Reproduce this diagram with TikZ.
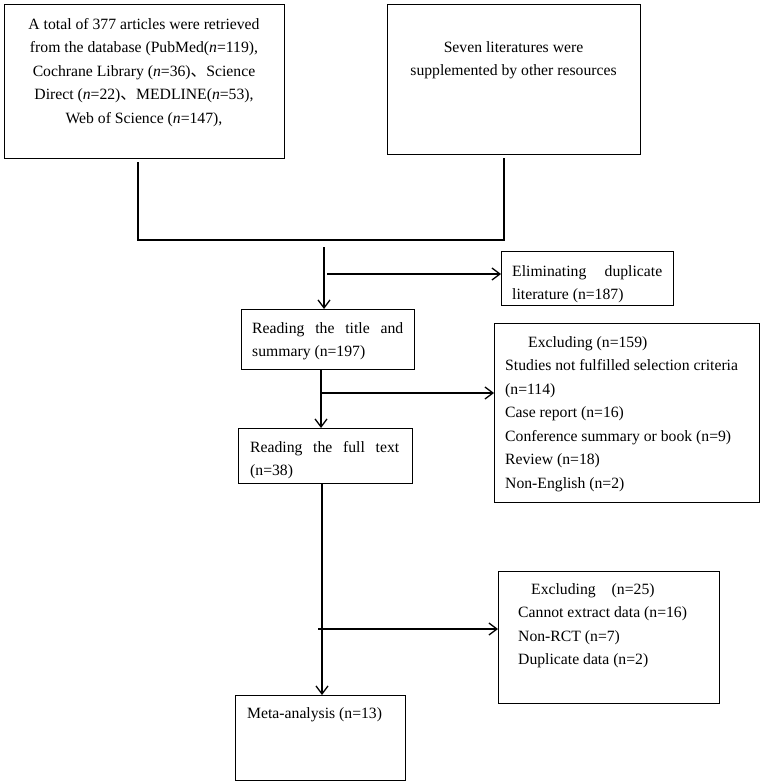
\documentclass[tikz,border=0pt]{standalone}
\usepackage{fontspec}
\setmainfont{Liberation Serif}
\newfontfamily\cjkfont{Noto Sans CJK SC}
\usetikzlibrary{arrows.meta}
\newcommand{\dunhao}{{\cjkfont 、}}
\begin{document}
\begin{tikzpicture}[x=1pt,y=-1pt,
  box/.style={draw, line width=1.3pt, inner sep=0pt, anchor=north west},
  txt/.style={inner sep=0pt, font=\fontsize{15.7}{23.5}\selectfont},
  conn/.style={line width=1.3pt},
  arr/.style={line width=1.3pt, -{Straight Barb[length=8pt,width=12pt,line width=1.3pt]}}]
\useasboundingbox (0,0) rectangle (765,784);
% boxes
\node[box, minimum width=280pt, minimum height=154pt] (b1) at (4,4) {};
\node[box, minimum width=253pt, minimum height=150pt] (b2) at (387,4) {};
\node[box, minimum width=172pt, minimum height=54pt] (elim) at (501,251) {};
\node[box, minimum width=173pt, minimum height=60pt] (title) at (241,309) {};
\node[box, minimum width=265pt, minimum height=179pt] (ex1) at (494,323) {};
\node[box, minimum width=174pt, minimum height=55pt] (full) at (238,428) {};
\node[box, minimum width=221pt, minimum height=132pt] (ex2) at (498,571) {};
\node[box, minimum width=170pt, minimum height=85pt] (meta) at (235,695) {};
% texts
\node[txt, align=center, anchor=north] (t1) at (144,18) {A total of 377 articles were retrieved\\
from the database (PubMed(\textit{n}=119),\\
Cochrane Library (\textit{n}=36)\dunhao Science\\
Direct (\textit{n}=22)\dunhao MEDLINE(\textit{n}=53),\\
Web of Science (\textit{n}=147),};
\node[txt, align=center, anchor=north] (t2) at (513.5,41) {Seven literatures were\\supplemented by other resources};
\node[txt, anchor=north west] (t3) at (512,265) {\parbox{150pt}{Eliminating\hfill duplicate\\literature (n=187)}};
\node[txt, anchor=north west] (t4) at (252,322) {\parbox{151pt}{Reading\hfill the\hfill title\hfill and\\summary (n=197)}};
\node[txt, anchor=north west] (t5) at (250,441) {\parbox{149pt}{Reading\hfill the\hfill full\hfill text\\(n=38)}};
\node[txt, align=left, anchor=north west] (t6) at (505,336) {\hspace*{23pt}Excluding (n=159)\\
Studies not fulfilled selection criteria\\
(n=114)\\
Case report (n=16)\\
Conference summary or book (n=9)\\
Review (n=18)\\
Non-English (n=2)};
\node[txt, align=left, anchor=north west] (t7) at (518,583) {\hspace*{13pt}Excluding\hspace{16pt}(n=25)\\
Cannot extract data (n=16)\\
Non-RCT (n=7)\\
Duplicate data (n=2)};
\node[txt, anchor=north west] (t8) at (247,707) {Meta-analysis (n=13)};
% connectors
\coordinate (j1) at (138,240);
\coordinate (j2) at (504,240);
\draw[conn] ([yshift=-3pt]b1.south -| j1) -- (j1) -- (j2) -- ([yshift=-3pt]b2.south -| j2);
\coordinate (m1) at (324,247);
\coordinate (m2) at (327,274);
\draw[arr] (m1) -- (m1 |- title.north);
\draw[arr] (m2) -- (m2 -| elim.west);
\coordinate (m3) at (321,369);
\coordinate (m4) at (321,393);
\draw[arr] (m3 |- title.south) -- (m3 |- full.north);
\draw[arr] (m4) -- (m4 -| ex1.west);
\coordinate (m5) at (322,483);
\coordinate (m6) at (318,629);
\draw[arr] (m5 |- full.south) -- (m5 |- meta.north);
\draw[arr] (m6) -- (m6 -| ex2.west);
\end{tikzpicture}
\end{document}
